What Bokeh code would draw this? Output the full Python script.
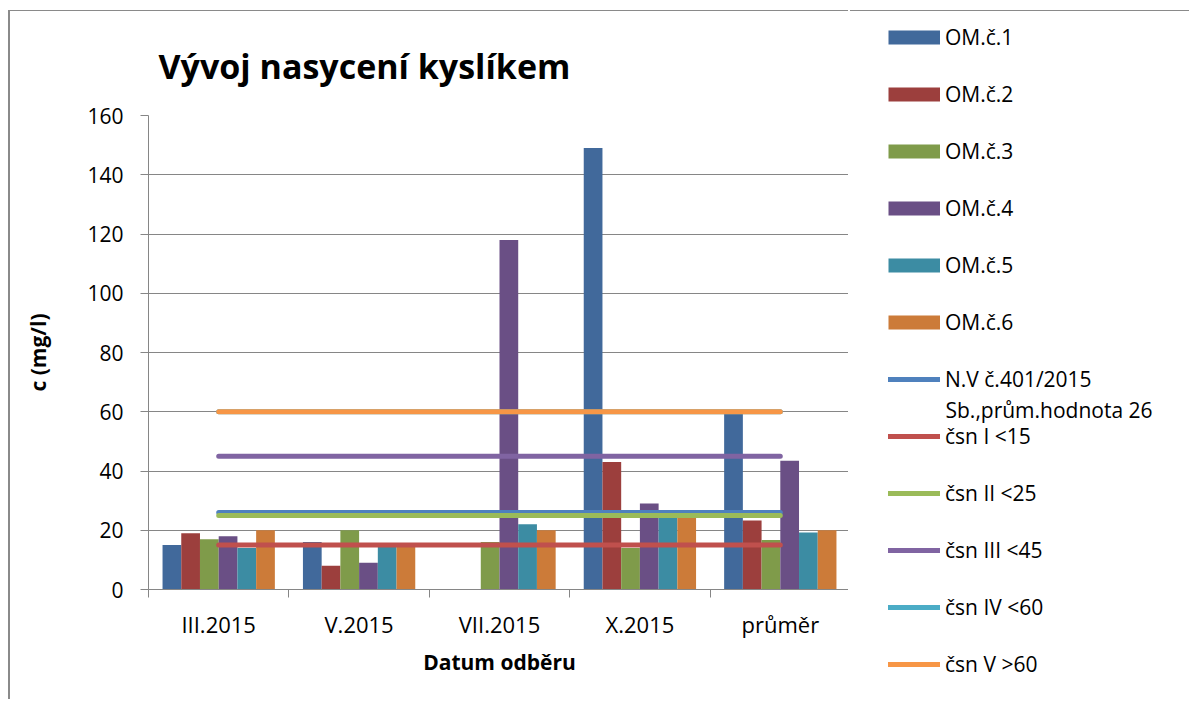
from bokeh.plotting import figure
from bokeh.models import Range1d, FixedTicker, Legend, LegendItem, Label
from bokeh.embed import file_html
from bokeh.resources import INLINE

# ---- data ----
categories = ["III.2015", "V.2015", "VII.2015", "X.2015", "průměr"]
bar_names = ["OM.č.1", "OM.č.2", "OM.č.3", "OM.č.4", "OM.č.5", "OM.č.6"]
om1 = [15, 16, 0, 149, 60]
om2 = [19, 8, 0, 43, 23.3]
om3 = [17, 20, 16, 14, 16.75]
om4 = [18, 9, 118, 29, 43.5]
om5 = [14, 15, 22, 26, 19.25]
om6 = [20, 15, 20, 25, 20]
bar_colors = ["#41699B", "#9C3F3D", "#7F9B4A", "#6A4F85", "#3C8CA3", "#CC7B39"]

line_names = ["N.V č.401/2015", "čsn I <15", "čsn II <25",
              "čsn III <45", "čsn IV <60", "čsn V >60"]
line_name_2nd = "Sb.,prům.hodnota 26"
nv_401 = [26, 26, 26, 26, 26]
csn_1 = [15, 15, 15, 15, 15]
csn_2 = [25, 25, 25, 25, 25]
csn_3 = [45, 45, 45, 45, 45]
csn_4 = [60, 60, 60, 60, 60]
csn_5 = [60, 60, 60, 60, 60]
line_colors = ["#4F81BD", "#C0504D", "#9BBB59", "#8064A2", "#4BACC6", "#F79646"]

y_ticks = [0, 20, 40, 60, 80, 100, 120, 140, 160]

FONT = "Open Sans"
GRAY = "#868686"
BORDER = "#8a8a8a"

bar_series = [om1, om2, om3, om4, om5, om6]
line_series = [nv_401, csn_1, csn_2, csn_3, csn_4, csn_5]

n_cat = len(categories)
centers = [i + 0.5 for i in range(n_cat)]
bar_w = 1.0 / 7.5

TOP = 11          # canvas top on the page (10px margin + 1px border)
H = 689           # canvas height (ends at 700 on the page)

p = figure(width=840, height=H, output_backend="svg", toolbar_location=None,
           x_range=Range1d(0, n_cat), y_range=Range1d(0, 160),
           min_border_left=138, min_border_right=0, min_border_top=104,
           min_border_bottom=111,
           title="Vývoj nasycení kyslíkem",
           styles={"margin-left": "8px", "margin-top": "10px",
                   "border-left": "2px solid " + BORDER,
                   "border-top": "1px solid " + BORDER})
p.outline_line_color = None
p.background_fill_color = "white"
p.border_fill_color = "white"

p.title.text_font = FONT
p.title.text_font_size = "34px"
p.title.text_font_style = "bold"
p.title.text_color = "black"
p.title.offset = 10
p.title.standoff = 54

# bars
for j, (vals, col) in enumerate(zip(bar_series, bar_colors)):
    xs = [c + (j - 2.5) * bar_w for c in centers]
    p.vbar(x=xs, top=vals, width=bar_w, bottom=0, fill_color=col, line_color=None)

# limit lines
for vals, col in zip(line_series, line_colors):
    p.line(x=centers, y=vals, line_color=col, line_width=5, line_cap="round")

# axes
xa = p.xaxis[0]
xa.ticker = FixedTicker(ticks=centers, minor_ticks=list(range(n_cat + 1)))
xa.major_label_overrides = {c: lab for c, lab in zip(centers, categories)}
xa.major_tick_out = 0
xa.major_tick_in = 0
xa.minor_tick_out = 8
xa.minor_tick_in = 0
xa.minor_tick_line_color = GRAY
xa.axis_line_color = GRAY
xa.major_label_text_font = FONT
xa.major_label_text_font_size = "22px"
xa.major_label_text_color = "black"
xa.major_label_standoff = 11
xa.axis_label = "Datum odběru"
xa.axis_label_text_font = FONT
xa.axis_label_text_font_size = "21px"
xa.axis_label_text_font_style = "bold"
xa.axis_label_text_color = "black"
xa.axis_label_standoff = 6

ya = p.yaxis[0]
ya.ticker = FixedTicker(ticks=y_ticks)
ya.major_tick_out = 8
ya.major_tick_in = 0
ya.minor_tick_out = 0
ya.minor_tick_in = 0
ya.major_tick_line_color = GRAY
ya.axis_line_color = GRAY
ya.major_label_text_font = FONT
ya.major_label_text_font_size = "21px"
ya.major_label_text_color = "black"
ya.major_label_standoff = 17
ya.axis_label = "c (mg/l)"
ya.axis_label_text_font = FONT
ya.axis_label_text_font_size = "21px"
ya.axis_label_text_font_style = "bold"
ya.axis_label_text_color = "black"
ya.axis_label_standoff = 32

p.xgrid.visible = False
p.ygrid.ticker = FixedTicker(ticks=y_ticks)
p.ygrid.grid_line_color = GRAY
p.ygrid.grid_line_width = 1

# ---- legend panel (right part of the chart), placed beside the plot ----
q = figure(width=339, height=H, output_backend="svg", toolbar_location=None,
           x_range=Range1d(0, 1), y_range=Range1d(0, 1), title=None,
           x_axis_type=None, y_axis_type=None, min_border=0,
           styles={"position": "absolute", "left": "850px", "top": "10px",
                   "border-top": "1px solid " + BORDER})
q.outline_line_color = None
q.background_fill_color = "white"
q.border_fill_color = "white"
q.xgrid.visible = False
q.ygrid.visible = False

nan = float("nan")
keys = []
for col in bar_colors:
    keys.append(q.line(x=[nan], y=[nan], line_color=col, line_width=14, line_cap="butt"))
for col in line_colors:
    keys.append(q.line(x=[nan], y=[nan], line_color=col, line_width=5, line_cap="round"))

bottom_page = TOP + H
labels = bar_names + line_names
leg = Legend(items=[LegendItem(label=n, renderers=[k]) for n, k in zip(labels, keys)],
             location=(38, bottom_page - 679), glyph_width=52, glyph_height=30, label_height=30,
             spacing=27, padding=0, margin=0, label_standoff=5,
             border_line_color=None, background_fill_alpha=0,
             label_text_font=FONT, label_text_font_size="21px", label_text_color="black")
q.add_layout(leg, "center")

q.add_layout(Label(x=95, y=bottom_page - 409.5, x_units="screen", y_units="screen",
                   text=line_name_2nd,
                   text_font=FONT, text_font_size="21px", text_color="black",
                   text_align="left", text_baseline="middle"))

open("out.html", "w").write(file_html([p, q], INLINE))
